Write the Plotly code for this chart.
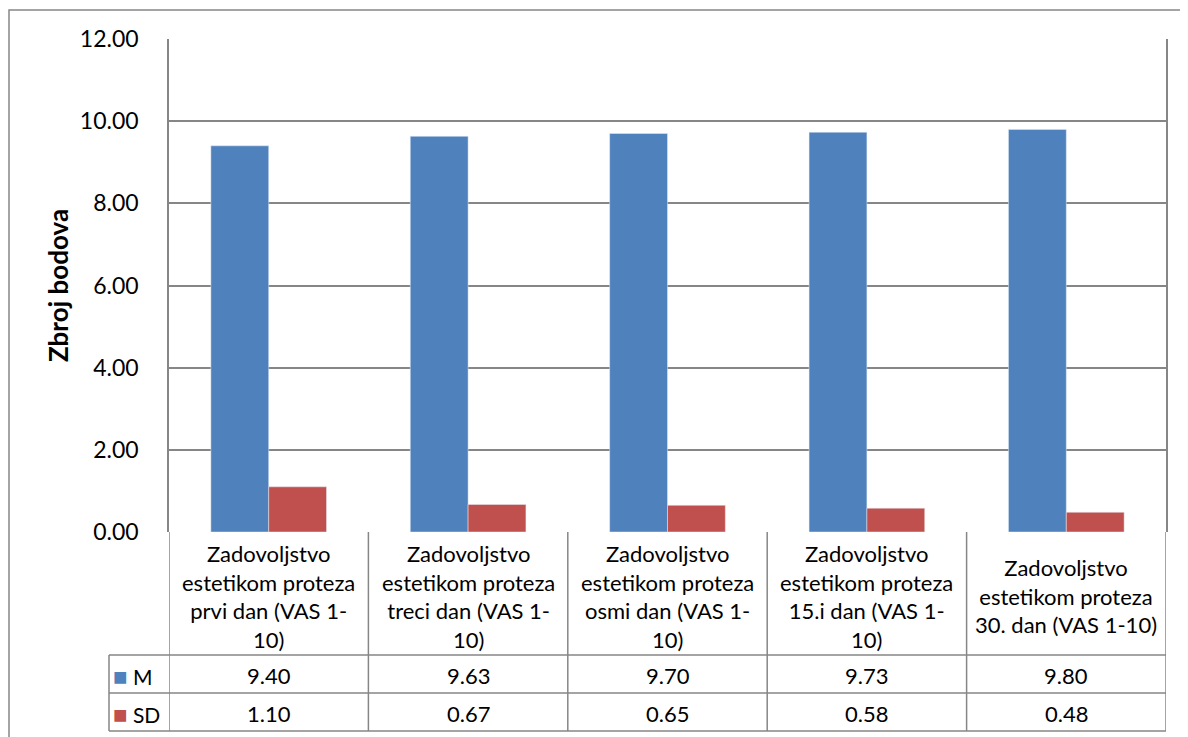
import plotly.graph_objects as go

# chart data
categories = [
    "Zadovoljstvo<br>estetikom proteza<br>prvi dan (VAS 1-<br>10)",
    "Zadovoljstvo<br>estetikom proteza<br>treci dan (VAS 1-<br>10)",
    "Zadovoljstvo<br>estetikom proteza<br>osmi dan (VAS 1-<br>10)",
    "Zadovoljstvo<br>estetikom proteza<br>15.i dan (VAS 1-<br>10)",
    "Zadovoljstvo<br>estetikom proteza<br>30. dan (VAS 1-10)",
]
m_values = [9.40, 9.63, 9.70, 9.73, 9.80]
sd_values = [1.10, 0.67, 0.65, 0.58, 0.48]
series_names = ["M", "SD"]
y_ticks = [0, 2, 4, 6, 8, 10, 12]

BLUE = "#4F81BD"
RED = "#C0504D"
GRID = "#868686"
FONT = "Lato"

# page body adds an 8px offset, so work in screen pixels and shift
OFF = 8
W, H = 1188, 737
L, R, T, B = 169 - OFF, 22 + OFF, 39 - OFF, 205 + OFF
pw, ph = W - L - R, H - T - B


def py(ypx):
    # screen pixel row -> paper y
    return (H - B - (ypx - OFF)) / ph


def px_(xpx):
    return (xpx - OFF - L) / pw


idx = list(range(len(categories)))

fig = go.Figure()
fig.add_trace(go.Bar(x=idx, y=m_values, name=series_names[0], marker_color=BLUE))
fig.add_trace(go.Bar(x=idx, y=sd_values, name=series_names[1], marker_color=RED))

shapes = []
line = dict(color=GRID, width=1.5)
bottom = 731
# vertical table lines at category boundaries
for i in range(len(categories) + 1):
    shapes.append(dict(type="line", xref="x", yref="paper", x0=i - 0.5, x1=i - 0.5,
                       y0=py(bottom), y1=0, line=line))
# horizontal table lines
for ypx in [655, 693, bottom]:
    shapes.append(dict(type="line", xref="paper", yref="paper", x0=px_(109), x1=1,
                       y0=py(ypx), y1=py(ypx), line=line))
shapes.append(dict(type="line", xref="paper", yref="paper", x0=px_(109), x1=px_(109),
                   y0=py(bottom), y1=py(655), line=line))
# outer chart border
shapes.append(dict(type="rect", xref="paper", yref="paper", x0=px_(9), x1=1.2,
                   y0=-0.6, y1=py(10), line=line, layer="below"))

annotations = []
for i, c in enumerate(categories):
    annotations.append(dict(x=i, y=py(596), xref="x", yref="paper", text=c,
                            showarrow=False, yanchor="middle",
                            font=dict(family=FONT, size=22, color="black")))
for vals, ypx in [(m_values, 675), (sd_values, 713)]:
    for i, v in enumerate(vals):
        annotations.append(dict(x=i, y=py(ypx), xref="x", yref="paper", text=f"{v:.2f}",
                                showarrow=False, yanchor="middle",
                                font=dict(family=FONT, size=22, color="black")))
for name, col, ypx in [(series_names[0], BLUE, 675), (series_names[1], RED, 713)]:
    annotations.append(dict(x=px_(111), y=py(ypx), xref="paper", yref="paper",
                            text=f'<span style="color:{col};font-size:24px">■</span> {name}',
                            showarrow=False, xanchor="left", yanchor="middle",
                            font=dict(family=FONT, size=21, color="black")))

fig.update_layout(
    width=W, height=H,
    margin=dict(l=L, r=R, t=T, b=B),
    paper_bgcolor="white", plot_bgcolor="white",
    barmode="group", bargap=0.42, bargroupgap=0,
    showlegend=False,
    shapes=shapes, annotations=annotations,
    font=dict(family=FONT, color="black"),
    xaxis=dict(range=[-0.5, len(categories) - 0.5], showticklabels=False,
               showgrid=False, zeroline=False, showline=False),
    yaxis=dict(range=[0, 12], tickvals=y_ticks, ticktext=[f"{t:.2f}" for t in y_ticks],
               tickfont=dict(family=FONT, size=23), ticklabelstandoff=24,
               showgrid=True, gridcolor=GRID, gridwidth=1.5,
               zeroline=False, showline=True, linecolor=GRID, linewidth=1.5, mirror=True,
               title=dict(text="<b>Zbroj bodova</b>", font=dict(family=FONT, size=26),
                          standoff=4)),
)

fig.write_html("out.html")
